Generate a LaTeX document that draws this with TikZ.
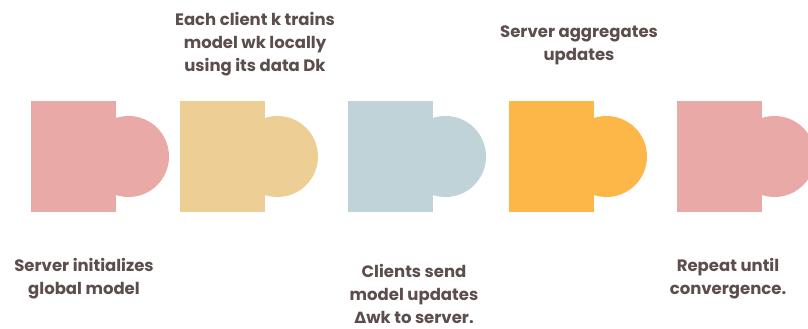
\documentclass[tikz,border=0pt]{standalone}
\usepackage{fontspec}
\setmainfont{Poppins}
\newfontfamily\greekfont{DejaVu Sans}
\begin{document}
\begin{tikzpicture}[x=1pt,y=-1pt,
  label/.style={font=\fontsize{16.5}{23}\selectfont\bfseries, text=txt, align=center, inner sep=0pt, anchor=base},
]
\definecolor{txt}{HTML}{5C4E4C}
\definecolor{rose}{HTML}{E8A9A7}
\definecolor{sand}{HTML}{EDCF96}
\definecolor{mist}{HTML}{BFD3D8}
\definecolor{amber}{HTML}{FDB748}
\useasboundingbox[fill=white] (0,0) rectangle (808,329);
% puzzle pieces: a block with a round tab on its right side
\newcommand{\piece}[2]{%
  \fill[#2] (#1,101) rectangle ++(85,111);
  \fill[#2] (#1+97.5,156.5) circle (40.5);
}
\piece{31}{rose}
\piece{180}{sand}
\piece{348}{mist}
\piece{509}{amber}
\piece{677}{rose}
% step captions (positioned by the baseline of their last line)
\node[label] (s1) at (84,294) {Server initializes\\global model};
\node[label] (s2) at (255,71) {Each client k trains\\model wk locally\\using its data Dk};
\node[label] (s3) at (414,323) {Clients send\\model updates\\{\greekfont\bfseries\fontsize{15.5}{23}\selectfont Δ}wk to server.};
\node[label] (s4) at (579,60) {Server aggregates\\updates};
\node[label] (s5) at (728,294) {Repeat until\\convergence.};
\end{tikzpicture}
\end{document}
